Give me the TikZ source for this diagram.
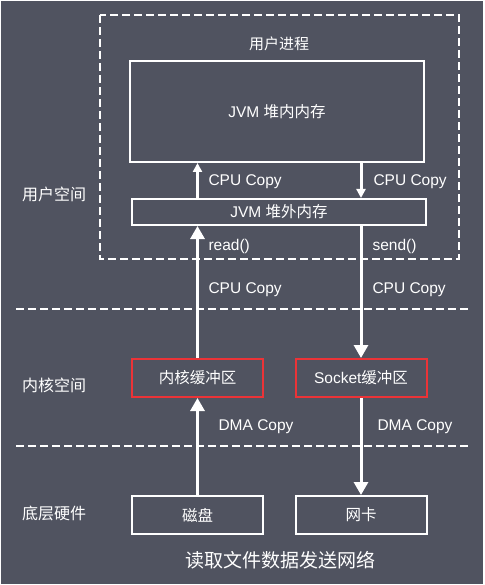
\documentclass[tikz,border=0pt]{standalone}
\usepackage{fontspec}
\setmainfont{Liberation Sans}
\newfontfamily\cjk{Noto Sans CJK SC}
\usetikzlibrary{arrows.meta}

\definecolor{bgcolor}{RGB}{80,83,96}
\definecolor{bufred}{RGB}{235,51,55}

\tikzset{
    membox/.style={draw=white, line width=2pt, minimum width=294pt, text=white, font=\fontsize{15.5}{18}\selectfont},
    bufbox/.style={draw=#1, line width=2pt, minimum width=131pt, minimum height=38pt, text=white, font=\fontsize{15.5}{18}\selectfont},
    copylabel/.style={anchor=west, text=white, font=\fontsize{15.5}{18}\selectfont},
    sidelabel/.style={text=white, font=\cjk\fontsize{16}{19}\selectfont},
    bigarrow/.style={draw=white, line width=3pt, -{Triangle[width=14pt,length=13pt]}},
    smallarrow/.style={draw=white, line width=3pt, -{Triangle[width=9pt,length=9pt]}},
    sepline/.style={draw=white, line width=2pt, dash pattern=on 8pt off 4pt},
}

\begin{document}
\begin{tikzpicture}[x=1pt, y=-1pt]
        \def \leftx {197.5}
        \def \rightx {361}

        \useasboundingbox (0,0) rectangle (484,585);
        \fill[white] (0,0) rectangle (484,585);
        \fill[bgcolor] (1,1) rectangle (483,584);

        % user process
        \draw[sepline] (100,15) rectangle (459,259);
        \node[text=white, font=\cjk\fontsize{15}{18}\selectfont] (proc) at (279,44) {用户进程};

        \node[membox, minimum height=101pt] (heap) at (277,111.5) {JVM {\cjk 堆内内存}};
        \node[membox, minimum height=26pt] (offheap) at (279,212) {JVM {\cjk 堆外内存}};

        \draw[sepline] (16,309) -- (470,309);
        \draw[sepline] (16,446) -- (470,446);

        \node[bufbox=bufred] (kbuf) at (\leftx,378) {\cjk 内核缓冲区};
        \node[bufbox=bufred] (sbuf) at (\rightx,378) {Socket{\cjk 缓冲区}};
        \node[bufbox=white] (disk) at (\leftx,515) {\cjk 磁盘};
        \node[bufbox=white] (nic) at (\rightx,515) {\cjk 网卡};

        \foreach \y/\t [count=\i] in {194/用户空间, 385/内核空间, 513/底层硬件}{
            \node[sidelabel] (side\i) at (54,\y) {\t};
        };

        % read path
        \draw[bigarrow] (disk) -- (kbuf);
        \draw[bigarrow] (kbuf.north) -- (kbuf.north |- offheap.south);
        \draw[smallarrow] (offheap.north -| kbuf) -- (heap.south -| kbuf);

        % send path
        \draw[smallarrow] (heap.south -| sbuf) -- (offheap.north -| sbuf);
        \draw[bigarrow] (offheap.south -| sbuf) -- (sbuf.north);
        \draw[bigarrow] (sbuf) -- (nic);

        \node[copylabel] (cpu1) at (205,182) {CPU Copy};
        \node[copylabel] (cpu2) at (370,182) {CPU Copy};
        \node[copylabel] (read) at (205,246) {read()};
        \node[copylabel] (send) at (369,246) {send()};
        \node[copylabel] (cpu3) at (205,290) {CPU Copy};
        \node[copylabel] (cpu4) at (369,290) {CPU Copy};
        \node[copylabel] (dma1) at (215,427) {DMA Copy};
        \node[copylabel] (dma2) at (374,427) {DMA Copy};

        \node[text=white, font=\cjk\fontsize{19}{22}\selectfont] (title) at (280,560) {读取文件数据发送网络};
\end{tikzpicture}
\end{document}
